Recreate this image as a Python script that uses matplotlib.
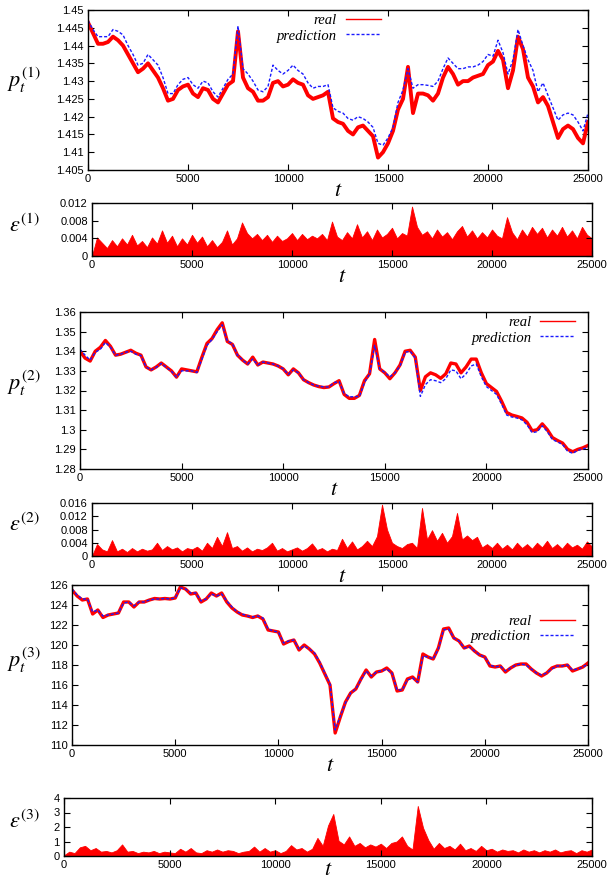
import matplotlib
matplotlib.use("Agg")
import matplotlib.pyplot as plt
import numpy as np
from matplotlib.lines import Line2D

plt.rcParams["font.family"] = ["Liberation Sans", "DejaVu Sans"]
plt.rcParams["mathtext.fontset"] = "stix"

# price series sampled every 250 steps, t = 0 .. 25000
P1_REAL = [
    1.4465, 1.4435, 1.4405, 1.4405, 1.4410, 1.4425, 1.4415, 1.4400, 1.4375, 1.4350,
    1.4325, 1.4335, 1.4350, 1.4330, 1.4310, 1.4280, 1.4245, 1.4250, 1.4275, 1.4285,
    1.4290, 1.4265, 1.4255, 1.4280, 1.4275, 1.4250, 1.4240, 1.4265, 1.4290, 1.4300,
    1.4440, 1.4310, 1.4280, 1.4270, 1.4245, 1.4245, 1.4255, 1.4295, 1.4300, 1.4285,
    1.4290, 1.4305, 1.4295, 1.4290, 1.4260, 1.4250, 1.4255, 1.4260, 1.4270, 1.4195,
    1.4185, 1.4180, 1.4160, 1.4150, 1.4170, 1.4175, 1.4160, 1.4145, 1.4085, 1.4100,
    1.4125, 1.4160, 1.4220, 1.4250, 1.4340, 1.4210, 1.4265, 1.4265, 1.4260, 1.4245,
    1.4265, 1.4310, 1.4340, 1.4320, 1.4290, 1.4300, 1.4300, 1.4310, 1.4315, 1.4320,
    1.4345, 1.4355, 1.4385, 1.4360, 1.4280, 1.4330, 1.4425, 1.4390, 1.4310, 1.4285,
    1.4240, 1.4255, 1.4230, 1.4185, 1.4140, 1.4165, 1.4175, 1.4165, 1.4140, 1.4125,
    1.4185,
]
P1_PRED = [
    1.4470, 1.4445, 1.4425, 1.4425, 1.4425, 1.4445, 1.4440, 1.4430, 1.4400, 1.4375,
    1.4345, 1.4350, 1.4375, 1.4360, 1.4345, 1.4310, 1.4265, 1.4265, 1.4290, 1.4305,
    1.4310, 1.4290, 1.4280, 1.4300, 1.4295, 1.4270, 1.4255, 1.4280, 1.4305, 1.4320,
    1.4455, 1.4335, 1.4320, 1.4300, 1.4275, 1.4270, 1.4285, 1.4345, 1.4330, 1.4320,
    1.4330, 1.4345, 1.4330, 1.4320, 1.4295, 1.4280, 1.4285, 1.4285, 1.4290, 1.4225,
    1.4215, 1.4210, 1.4195, 1.4190, 1.4200, 1.4195, 1.4185, 1.4170, 1.4125, 1.4120,
    1.4140, 1.4170, 1.4240, 1.4275, 1.4335, 1.4280, 1.4290, 1.4290, 1.4288, 1.4285,
    1.4300, 1.4335, 1.4365, 1.4350, 1.4335, 1.4335, 1.4340, 1.4340, 1.4345, 1.4355,
    1.4375, 1.4370, 1.4415, 1.4380, 1.4320, 1.4360, 1.4445, 1.4400, 1.4360, 1.4330,
    1.4270, 1.4295, 1.4260, 1.4225, 1.4190, 1.4205, 1.4210, 1.4205, 1.4185, 1.4160,
    1.4210,
]
P2_REAL = [
    1.3400, 1.3365, 1.3350, 1.3400, 1.3420, 1.3455, 1.3425, 1.3380, 1.3385, 1.3395,
    1.3405, 1.3390, 1.3380, 1.3320, 1.3305, 1.3320, 1.3340, 1.3320, 1.3300, 1.3268,
    1.3310, 1.3305, 1.3300, 1.3295, 1.3370, 1.3440, 1.3465, 1.3510, 1.3545, 1.3450,
    1.3435, 1.3380, 1.3355, 1.3335, 1.3370, 1.3330, 1.3345, 1.3340, 1.3335, 1.3325,
    1.3310, 1.3280, 1.3310, 1.3290, 1.3255, 1.3240, 1.3228, 1.3220, 1.3215, 1.3218,
    1.3235, 1.3250, 1.3180, 1.3160, 1.3160, 1.3175, 1.3250, 1.3285, 1.3460, 1.3310,
    1.3290, 1.3260, 1.3290, 1.3330, 1.3400, 1.3405, 1.3370, 1.3200, 1.3270, 1.3290,
    1.3280, 1.3262, 1.3285, 1.3340, 1.3335, 1.3290, 1.3320, 1.3360, 1.3360, 1.3290,
    1.3235, 1.3215, 1.3195, 1.3145, 1.3088, 1.3075, 1.3068, 1.3060, 1.3038, 1.2995,
    1.3000, 1.3030, 1.3000, 1.2960, 1.2945, 1.2932, 1.2900, 1.2888, 1.2900, 1.2908,
    1.2920,
]
P2_PRED = [
    1.3410, 1.3380, 1.3355, 1.3395, 1.3410, 1.3445, 1.3420, 1.3380, 1.3385, 1.3395,
    1.3400, 1.3385, 1.3378, 1.3320, 1.3305, 1.3318, 1.3338, 1.3318, 1.3298, 1.3268,
    1.3300, 1.3300, 1.3300, 1.3292, 1.3360, 1.3430, 1.3460, 1.3500, 1.3535, 1.3450,
    1.3440, 1.3380, 1.3355, 1.3335, 1.3360, 1.3330, 1.3345, 1.3340, 1.3335, 1.3325,
    1.3310, 1.3282, 1.3305, 1.3290, 1.3255, 1.3240, 1.3228, 1.3222, 1.3218, 1.3218,
    1.3240, 1.3245, 1.3185, 1.3168, 1.3168, 1.3170, 1.3240, 1.3285, 1.3430, 1.3310,
    1.3292, 1.3270, 1.3290, 1.3325, 1.3395, 1.3400, 1.3365, 1.3170, 1.3230, 1.3255,
    1.3250, 1.3240, 1.3260, 1.3305, 1.3300, 1.3260, 1.3285, 1.3325, 1.3335, 1.3270,
    1.3220, 1.3200, 1.3180, 1.3130, 1.3075, 1.3065, 1.3060, 1.3050, 1.3025, 1.2985,
    1.2990, 1.3020, 1.2990, 1.2950, 1.2938, 1.2925, 1.2890, 1.2880, 1.2895, 1.2902,
    1.2912,
]
P3_REAL = [
    125.5, 124.9, 124.5, 124.6, 123.1, 123.5, 122.75, 123.0, 123.1, 123.2,
    124.3, 124.3, 123.8, 124.3, 124.3, 124.5, 124.65, 124.6, 124.65, 124.6,
    124.7, 125.8, 125.6, 125.1, 125.2, 124.3, 124.6, 125.2, 124.9, 125.2,
    124.3, 123.7, 123.3, 123.0, 122.9, 122.75, 122.9, 122.6, 121.5, 121.4,
    121.3, 120.1, 120.35, 120.5, 119.5, 120.0, 119.6, 119.1, 118.2, 117.1,
    116.0, 111.2, 112.8, 114.3, 115.2, 115.6, 116.6, 117.5, 116.8, 117.3,
    117.4, 117.7, 117.2, 115.4, 115.5, 116.6, 116.8, 116.3, 119.1, 118.8,
    118.6, 119.7, 121.6, 121.7, 120.7, 120.4, 119.7, 119.9, 119.4, 119.0,
    118.8, 117.9, 117.8, 117.9, 117.3, 117.7, 118.0, 118.1, 118.1, 117.6,
    117.2, 116.9, 117.2, 117.7, 117.9, 117.9, 118.0, 117.4, 117.6, 117.8,
    118.2,
]
P3_PRED = [
    125.6, 125.0, 124.6, 124.6, 123.3, 123.5, 122.9, 123.0, 123.1, 123.2,
    124.2, 124.3, 123.9, 124.3, 124.3, 124.5, 124.6, 124.6, 124.65, 124.6,
    124.7, 125.7, 125.6, 125.2, 125.2, 124.4, 124.6, 125.1, 124.9, 125.1,
    124.4, 123.8, 123.3, 123.1, 122.9, 122.8, 122.9, 122.7, 121.6, 121.4,
    121.3, 120.2, 120.4, 120.5, 119.6, 119.9, 119.6, 119.2, 118.3, 117.2,
    116.1, 111.5, 112.9, 114.2, 115.2, 115.6, 116.5, 117.4, 116.9, 117.3,
    117.4, 117.6, 117.2, 115.5, 115.5, 116.5, 116.7, 116.3, 118.9, 118.8,
    118.6, 119.6, 121.5, 121.6, 120.7, 120.4, 119.7, 119.8, 119.4, 119.0,
    118.8, 118.0, 117.8, 117.9, 117.4, 117.7, 118.0, 118.1, 118.0, 117.6,
    117.2, 117.0, 117.2, 117.6, 117.9, 117.9, 118.0, 117.5, 117.6, 117.8,
    118.1,
]

# absolute prediction error on the same time grid
ERR1 = [
    0.0000, 0.0042, 0.0030, 0.0018, 0.0036, 0.0022, 0.0040, 0.0026, 0.0048, 0.0024,
    0.0034, 0.0020, 0.0042, 0.0028, 0.0058, 0.0030, 0.0046, 0.0022, 0.0040, 0.0026,
    0.0048, 0.0030, 0.0044, 0.0022, 0.0036, 0.0020, 0.0032, 0.0058, 0.0026, 0.0040,
    0.0076, 0.0052, 0.0040, 0.0050, 0.0036, 0.0048, 0.0032, 0.0046, 0.0034, 0.0040,
    0.0052, 0.0036, 0.0050, 0.0038, 0.0046, 0.0040, 0.0050, 0.0036, 0.0078, 0.0044,
    0.0036, 0.0054, 0.0040, 0.0072, 0.0042, 0.0056, 0.0036, 0.0060, 0.0042, 0.0050,
    0.0064, 0.0040, 0.0052, 0.0046, 0.0112, 0.0066, 0.0048, 0.0056, 0.0040, 0.0060,
    0.0044, 0.0054, 0.0038, 0.0056, 0.0068, 0.0044, 0.0058, 0.0040, 0.0054, 0.0042,
    0.0060, 0.0046, 0.0040, 0.0088, 0.0054, 0.0038, 0.0060, 0.0044, 0.0066, 0.0050,
    0.0064, 0.0042, 0.0060, 0.0046, 0.0066, 0.0044, 0.0058, 0.0040, 0.0066, 0.0048,
    0.0040,
]
ERR2 = [
    0.0000, 0.0036, 0.0020, 0.0014, 0.0048, 0.0014, 0.0022, 0.0012, 0.0024, 0.0014,
    0.0022, 0.0016, 0.0020, 0.0040, 0.0018, 0.0030, 0.0020, 0.0026, 0.0014, 0.0024,
    0.0020, 0.0028, 0.0016, 0.0040, 0.0024, 0.0058, 0.0030, 0.0072, 0.0024, 0.0030,
    0.0016, 0.0026, 0.0014, 0.0022, 0.0018, 0.0026, 0.0040, 0.0016, 0.0024, 0.0014,
    0.0020, 0.0026, 0.0016, 0.0024, 0.0038, 0.0018, 0.0024, 0.0014, 0.0022, 0.0018,
    0.0052, 0.0024, 0.0044, 0.0020, 0.0030, 0.0046, 0.0030, 0.0060, 0.0155, 0.0080,
    0.0040, 0.0030, 0.0024, 0.0036, 0.0040, 0.0024, 0.0145, 0.0050, 0.0078, 0.0046,
    0.0070, 0.0040, 0.0060, 0.0130, 0.0050, 0.0062, 0.0048, 0.0058, 0.0026, 0.0036,
    0.0024, 0.0040, 0.0022, 0.0034, 0.0020, 0.0040, 0.0024, 0.0036, 0.0022, 0.0040,
    0.0026, 0.0046, 0.0024, 0.0036, 0.0022, 0.0040, 0.0026, 0.0034, 0.0022, 0.0044,
    0.0028,
]
ERR3 = [
    0.05, 0.30, 0.20, 0.60, 0.70, 0.40, 0.55, 0.30, 0.35, 0.25,
    0.40, 0.80, 0.30, 0.35, 0.20, 0.30, 0.25, 0.35, 0.20, 0.30,
    0.25, 0.20, 0.50, 0.30, 0.55, 0.25, 0.20, 0.40, 0.30, 0.45,
    0.30, 0.40, 0.35, 0.20, 0.30, 0.35, 0.65, 0.30, 0.55, 0.30,
    0.40, 0.20, 0.35, 0.75, 0.45, 0.55, 0.30, 0.50, 1.25, 0.70,
    2.10, 2.90, 1.05, 0.80, 1.35, 0.70, 0.90, 0.60, 0.80, 0.65,
    0.85, 0.55, 0.90, 1.00, 1.35, 0.70, 0.45, 3.45, 1.95, 1.10,
    0.50, 0.90, 0.55, 0.70, 0.45, 0.85, 0.40, 0.55, 0.35, 0.70,
    0.40, 0.50, 0.30, 0.45, 0.35, 0.40, 0.25, 0.45, 0.30, 0.40,
    0.25, 0.40, 0.30, 0.45, 0.25, 0.35, 0.40, 0.20, 0.40, 0.30,
    0.45,
]

T_MAX = 25000
X_TICKS = [0, 5000, 10000, 15000, 20000, 25000]

W, H = 607, 881
RED = "#ff0000"
BLUE = "#1a1aff"
LEGEND_FONT = {"family": "Liberation Serif", "style": "italic", "size": 10.5}


def box(fig, left, top, right, bottom):
    # axes rectangle given in pixel edges measured from the top-left corner
    return fig.add_axes([left / W, 1 - bottom / H, (right - left) / W, (bottom - top) / H])


def style(ax, yticks, ylim, ylabel, label_y, xpad=-3):
    ax.set_xlim(0, T_MAX)
    ax.set_ylim(*ylim)
    ax.set_xticks(X_TICKS)
    ax.set_yticks(yticks)
    ax.tick_params(direction="in", top=True, right=True, length=4, width=0.8,
                   labelsize=8, pad=3)
    for s in ax.spines.values():
        s.set_linewidth(1.0)
    ax.set_xlabel(r"$t$", fontsize=16, labelpad=xpad)
    ax.set_ylabel(ylabel, fontsize=16, rotation=0, va="center", ha="center")
    ax.yaxis.set_label_coords(24 / W, 1 - label_y / H, transform=ax.figure.transFigure)


def price_panel(fig, rect, real, pred, yticks, ylim, ylabel, label_y, legend_anchor, lw):
    ax = box(fig, *rect)
    t = np.linspace(0, T_MAX, len(real))
    ax.plot(t, real, color=RED, lw=lw)
    ax.plot(t, pred, color=BLUE, lw=1.0, dashes=(2.2, 1.4))
    style(ax, yticks, ylim, ylabel, label_y)
    ax.set_yticklabels([f"{v:g}" for v in yticks])
    handles = [Line2D([], [], color=RED, lw=1.0),
               Line2D([], [], color=BLUE, lw=1.0, dashes=(2.2, 1.4))]
    ax.legend(handles, ["real", "prediction"], loc="upper right",
              bbox_to_anchor=legend_anchor, frameon=False, markerfirst=False,
              prop=LEGEND_FONT, handlelength=2.4, handletextpad=0.6,
              borderpad=0, borderaxespad=0, labelspacing=0.15)
    return ax


def error_panel(fig, rect, err, yticks, ylim, ylabel, label_y, xpad=-3):
    ax = box(fig, *rect)
    t = np.linspace(0, T_MAX, len(err))
    ax.fill_between(t, 0, err, color=RED, lw=0.6, edgecolor=RED)
    style(ax, yticks, ylim, ylabel, label_y, xpad)
    ax.set_yticklabels([f"{v:g}" for v in yticks])
    return ax


fig = plt.figure(figsize=(W / 100, H / 100), dpi=100)

price_panel(fig, (88, 10, 588, 170), P1_REAL, P1_PRED,
            [1.405, 1.41, 1.415, 1.42, 1.425, 1.43, 1.435, 1.44, 1.445, 1.45],
            (1.405, 1.45), r"$p_t^{\mathit{(1)}}$", 80, (0.585, 0.975), 2.8)
error_panel(fig, (92, 203, 592, 256), ERR1, [0, 0.004, 0.008, 0.012], (0, 0.012),
            r"$\varepsilon^{\mathit{(1)}}$", 226)

price_panel(fig, (80, 312, 588, 469), P2_REAL, P2_PRED,
            [1.28, 1.29, 1.3, 1.31, 1.32, 1.33, 1.34, 1.35, 1.36],
            (1.28, 1.36), r"$p_t^{\mathit{(2)}}$", 383, (0.975, 0.975), 2.4)
error_panel(fig, (92, 503, 592, 556), ERR2, [0, 0.004, 0.008, 0.012, 0.016], (0, 0.016),
            r"$\varepsilon^{\mathit{(2)}}$", 525)

price_panel(fig, (72, 585, 588, 745), P3_REAL, P3_PRED,
            [110, 112, 114, 116, 118, 120, 122, 124, 126],
            (110, 126), r"$p_t^{\mathit{(3)}}$", 660, (0.975, 0.815), 2.4)
error_panel(fig, (64, 798, 592, 856), ERR3, [0, 1, 2, 3, 4], (0, 4),
            r"$\varepsilon^{\mathit{(3)}}$", 822, xpad=-8)

fig.savefig("out.png", dpi=100)
